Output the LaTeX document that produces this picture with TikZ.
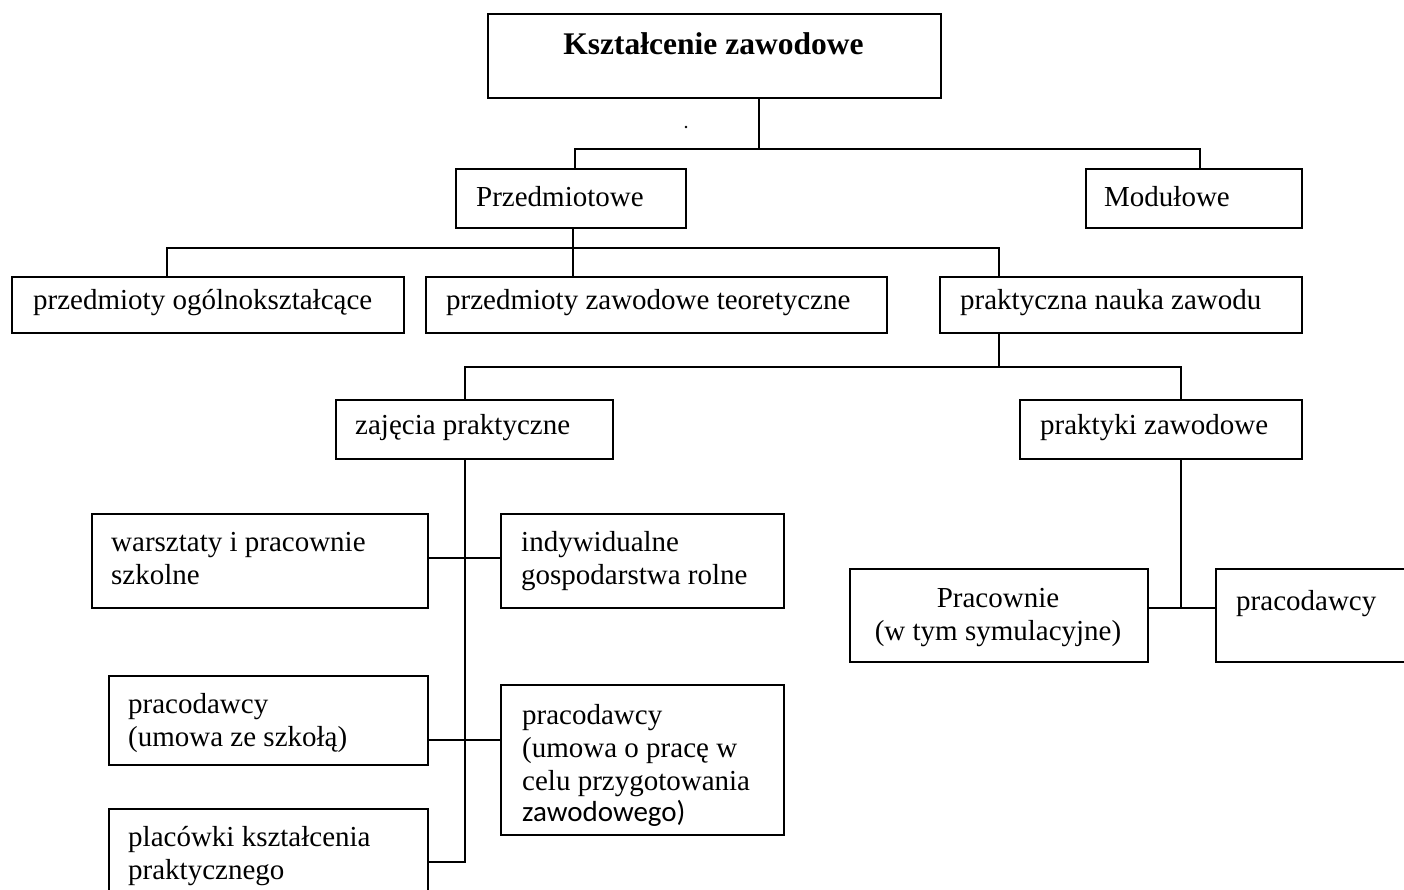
\documentclass[tikz,border=0pt]{standalone}
\usepackage{fontspec}
\setmainfont{Liberation Serif}
\newfontfamily\calfont{Carlito}
\begin{document}
\begin{tikzpicture}[x=1pt,y=-1pt,
  box/.style={draw=black, line width=1.8pt, inner sep=0pt, rectangle},
  txt/.style={inner sep=0pt, anchor=base west, font=\fontsize{29}{33}\selectfont},
  ctxt/.style={txt, anchor=base},
  conn/.style={draw=black, line width=1.8pt}]
\useasboundingbox (0,0) rectangle (1404,890);
\clip (0,0) rectangle (1404,890);
% boxes: corners
\newcommand{\boxat}[5]{\node[box, anchor=north west, minimum width=#4-#2, minimum height=#5-#3] (#1) at (#2,#3) {};}
\boxat{top}{487}{13}{940}{97}
\boxat{przed}{455}{168}{685}{227}
\boxat{modul}{1085}{168}{1301}{227}
\boxat{ogol}{11}{276}{403}{332}
\boxat{zaw}{425}{276}{886}{332}
\boxat{prak}{939}{276}{1301}{332}
\boxat{zaj}{335}{399}{612}{458}
\boxat{pz}{1019}{399}{1301}{458}
\boxat{warsz}{91}{513}{427}{607}
\boxat{indyw}{500}{513}{783}{607}
\boxat{pracA}{108}{675}{427}{764}
\boxat{pracB}{500}{684}{783}{834}
\boxat{plac}{108}{808}{427}{910}
\boxat{pracow}{849}{568}{1147}{661}
\boxat{pracR}{1215}{568}{1430}{661}
% texts
\node[ctxt, font=\fontsize{31.5}{36}\selectfont\bfseries] (t-top) at (713.5,55) {Kształcenie zawodowe};
\node[txt] (t-przed) at (476,207) {Przedmiotowe};
\node[txt] (t-modul) at (1104,207) {Modułowe};
\node[txt] (t-ogol) at (33,309) {przedmioty ogólnokształcące};
\node[txt] (t-zaw) at (446,309) {przedmioty zawodowe teoretyczne};
\node[txt] (t-prak) at (960,309) {praktyczna nauka zawodu};
\node[txt] (t-zaj) at (355,434) {zajęcia praktyczne};
\node[txt] (t-pz) at (1040,434) {praktyki zawodowe};
\node[txt] (t-warsz1) at (111,551) {warsztaty i pracownie};
\node[txt] (t-warsz2) at (111,584) {szkolne};
\node[txt] (t-indyw1) at (521,551) {indywidualne};
\node[txt] (t-indyw2) at (521,584) {gospodarstwa rolne};
\node[txt] (t-pracA1) at (128,713) {pracodawcy};
\node[txt] (t-pracA2) at (128,746) {(umowa ze szkołą)};
\node[txt] (t-pracB1) at (522,724) {pracodawcy};
\node[txt] (t-pracB2) at (522,757) {(umowa o pracę w};
\node[txt] (t-pracB3) at (522,790) {celu przygotowania};
\node[txt, font=\fontsize{29}{33}\calfont] (t-pracB4) at (522,821) {zawodowego)};
\node[txt] (t-plac1) at (128,846) {placówki kształcenia};
\node[txt] (t-plac2) at (128,879) {praktycznego};
\node[ctxt] (t-pracow1) at (998,607) {Pracownie};
\node[ctxt] (t-pracow2) at (998,640) {(w tym symulacyjne)};
\node[txt] (t-pracR) at (1236,610) {pracodawcy};
% small dot
\fill (686,127) circle (1.3);
% junction coordinates
\coordinate (j1) at (759,149);
\coordinate (h1l) at (575,149);
\coordinate (h1r) at (1200,149);
\coordinate (h2m) at (573,248);
\coordinate (h2l) at (167,248);
\coordinate (h2r) at (999,248);
\coordinate (h3m) at (999,367);
\coordinate (h3l) at (465,367);
\coordinate (h3r) at (1181,367);
\coordinate (v1) at (465,862);
\coordinate (r1) at (465,558);
\coordinate (r2) at (465,740);
\coordinate (r3) at (1181,608);
% connectors
\draw[conn] (top.south -| j1) -- (j1);
\draw[conn] (przed.north -| h1l) -- (h1l) -- (h1r) -- (modul.north -| h1r);
\draw[conn] (przed.south -| h2m) -- (zaw.north -| h2m);
\draw[conn] (ogol.north -| h2l) -- (h2l) -- (h2r) -- (prak.north -| h2r);
\draw[conn] (prak.south -| h3m) -- (h3m);
\draw[conn] (zaj.north -| h3l) -- (h3l) -- (h3r) -- (pz.north -| h3r);
\draw[conn] (zaj.south -| v1) -- (v1) -- (plac.east |- v1);
\draw[conn] (warsz.east |- r1) -- (indyw.west |- r1);
\draw[conn] (pracA.east |- r2) -- (pracB.west |- r2);
\draw[conn] (pz.south -| r3) -- (r3);
\draw[conn] (pracow.east |- r3) -- (pracR.west |- r3);
\end{tikzpicture}
\end{document}
